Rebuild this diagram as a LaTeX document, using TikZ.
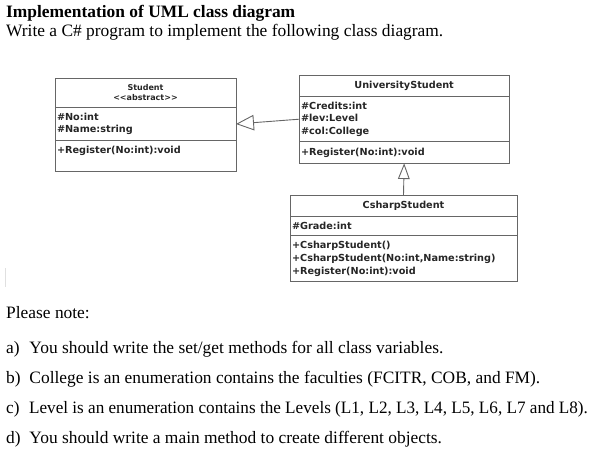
\documentclass[tikz,border=0pt]{standalone}
\usepackage{fontspec}
\setmainfont{Liberation Serif}
\newfontfamily\umlfont{DejaVu Sans}
\usetikzlibrary{arrows.meta,
                positioning}

\begin{document}
\begin{tikzpicture}[x=1pt, y=-1pt,
    node distance = 0pt,
         box/.style = {draw=black!60, line width=0.9pt, outer sep=0pt,
                       inner xsep=2pt, inner ysep=0pt, text=black!85,
                       font=\umlfont\bfseries\fontsize{9.7}{12.7}\selectfont},
   classhead/.style = {box, align=center},
   classbody/.style = {box, align=left},
        note/.style = {anchor=base west, inner sep=0pt,
                       font=\fontsize{17.4}{20}\selectfont},
     inherit/.style = {draw=black!60, line width=0.9pt,
                       -{Triangle[open, length=18pt, width=15.5pt]}}
                    ]
  \useasboundingbox (0,0) rectangle (594,451);
  % heading
  \node [note] (title) at (6,17.3) {\bfseries Implementation of UML class diagram};
  \node [note] (task)  at (6,36.7) {Write a C\# program to implement the following class diagram.};
  % Student
  \node [classhead, text width=177pt, minimum height=29pt, anchor=north west,
         font=\umlfont\bfseries\fontsize{8}{10}\selectfont] (student) at (55,78.3)
        {Student\\<{}<abstract>{}>};
  \node [classbody, text width=177pt, minimum height=33.4pt, below=of student] (student-attr)
        {\#No:int\\\#Name:string};
  \node [classbody, text width=177pt, minimum height=31pt, below=of student-attr] (student-ops)
        {+Register(No:int):void\\~};
  % UniversityStudent
  \node [classhead, text width=206.3pt, minimum height=21.7pt, anchor=north west] (univ) at (299,75)
        {UniversityStudent};
  \node [classbody, text width=206.3pt, minimum height=45pt, below=of univ] (univ-attr)
        {\#Credits:int\\\#lev:Level\\\#col:College};
  \node [classbody, text width=206.3pt, minimum height=21.6pt, below=of univ-attr] (univ-ops)
        {+Register(No:int):void};
  % CsharpStudent
  \node [classhead, text width=223pt, minimum height=21.7pt, anchor=north west] (csharp) at (290,195)
        {CsharpStudent};
  \node [classbody, text width=223pt, minimum height=19pt, below=of csharp] (csharp-attr)
        {\#Grade:int};
  \node [classbody, text width=223pt, minimum height=46pt, below=of csharp-attr] (csharp-ops)
        {+CsharpStudent()\\+CsharpStudent(No:int,Name:string)\\+Register(No:int):void};
  %---
  \draw [inherit] (univ-attr.west) -- (student-attr.east);
  \draw [inherit, -{Triangle[open, length=15.7pt, width=11.7pt]}] (csharp.north) -- (univ-ops.south);
  %---
  \draw [black!12, line width=1.5pt] (5.7,268) -- (5.7,287);
  % notes
  \node [note] (please) at (6,318.3) {Please note:};
  \node [note] (note-a) at (6,353.3) {\makebox[23.3pt][l]{a)}You should write the set/get methods for all class variables.};
  \node [note] (note-b) at (6,383.3) {\makebox[23.3pt][l]{b)}College is an enumeration contains the faculties (FCITR, COB, and FM).};
  \node [note] (note-c) at (6,413.3) {\scalebox{0.985}[1]{\makebox[23.3pt][l]{c)}Level is an enumeration contains the Levels (L1, L2, L3, L4, L5, L6, L7 and L8).}};
  \node [note] (note-d) at (6,443.3) {\makebox[23.3pt][l]{d)}You should write a main method to create different objects.};
\end{tikzpicture}
\end{document}
